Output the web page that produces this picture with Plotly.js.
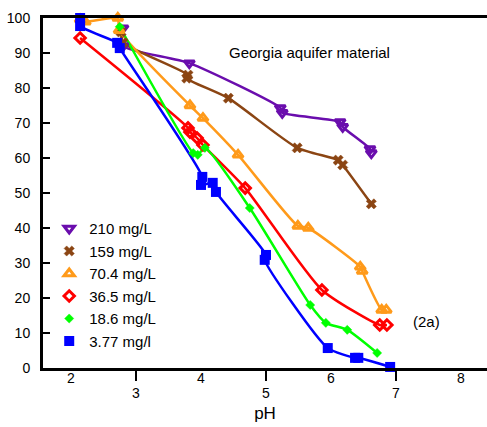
<!DOCTYPE html>
<html>
<head>
<meta charset="utf-8">
<script src="https://cdn.plot.ly/plotly-3.0.1.min.js"></script>
<style>html,body{margin:0;padding:0;background:#fff;}#chart{width:487px;height:427px;}</style>
</head>
<body>
<div id="chart"></div>
<script>
// Series names
var seriesNames = ["210 mg/L", "159 mg/L", "70.4 mg/L", "36.5 mg/L", "18.6 mg/L", "3.77 mg/l"];

// pH values (x) and % remaining (y) for each series
var x210 = [2.80, 2.80, 3.82, 5.22, 5.25, 6.14, 6.18, 6.60, 6.62];
var y210 = [97.1, 92.0, 87.1, 74.3, 72.9, 70.3, 68.9, 62.6, 61.4];

var x159 = [2.77, 2.80, 3.80, 3.78, 4.42, 5.48, 6.11, 6.18, 6.62];
var y159 = [96.0, 93.0, 83.7, 82.8, 77.1, 62.9, 59.4, 58.0, 46.9];

var x70 = [2.14, 2.22, 2.72, 2.74, 3.83, 4.03, 4.57, 5.49, 5.65, 6.45, 6.48, 6.78, 6.85];
var y70 = [99.6, 98.9, 100.0, 96.5, 75.0, 71.4, 60.9, 40.6, 40.0, 28.9, 27.7, 16.6, 16.6];

var x36 = [2.14, 3.80, 3.83, 3.94, 4.03, 4.68, 5.86, 6.75, 6.86];
var y36 = [94.3, 68.6, 67.4, 65.7, 63.7, 51.4, 22.3, 12.3, 12.3];

var x18 = [2.75, 3.88, 3.95, 4.06, 4.75, 5.68, 5.92, 6.25, 6.71];
var y18 = [97.5, 61.4, 60.9, 62.9, 45.7, 18.0, 12.9, 10.9, 4.3];

var x3 = [2.14, 2.14, 2.71, 2.75, 4.02, 4.00, 4.18, 4.23, 5.00, 4.98, 5.95, 6.37, 6.42, 6.91];
var y3 = [100.0, 97.7, 92.9, 91.4, 54.6, 52.3, 52.9, 50.3, 32.3, 30.9, 5.7, 2.9, 2.9, 0.3];

// Tick labels
var yTicks = [0, 10, 20, 30, 40, 50, 60, 70, 80, 90, 100];
var xOddTicks = [3, 5, 7];
var xEvenTicks = [2, 4, 6, 8];

var colors = ["#6a0dad", "#8b4513", "#ff9a1a", "#ff0000", "#00ff00", "#0000ff"];
var symbols = ["triangle-down-open", "x", "triangle-up-open", "diamond-open", "diamond", "square"];
var sizes = [9, 9, 9, 8, 7, 10];
var lineW = [3, 0.5, 3, 3, 0.5, 0];

var xs = [x210, x159, x70, x36, x18, x3];
var ys = [y210, y159, y70, y36, y18, y3];

var traces = [];
xs.forEach(function (xv, i) {
  traces.push({
    type: "scatter", mode: "lines", showlegend: false, hoverinfo: "skip",
    x: xv, y: ys[i], cliponaxis: false,
    line: {color: colors[i], width: 2.5, shape: "spline", smoothing: 0.6}
  });
});
xs.forEach(function (xv, i) {
  traces.push({
    type: "scatter", mode: "markers", name: seriesNames[i],
    x: xv, y: ys[i], cliponaxis: false,
    marker: {symbol: symbols[i], size: sizes[i], color: colors[i],
             line: {color: colors[i], width: lineW[i]}}
  });
});
// dummy trace to activate the second x axis for even labels
traces.push({type: "scatter", x: [2], y: [-100], xaxis: "x2", yaxis: "y", showlegend: false,
             mode: "markers", marker: {opacity: 0}, hoverinfo: "skip"});

var font = "Liberation Sans, Arial, sans-serif";
var layout = {
  width: 487, height: 427,
  margin: {l: 43, r: 0, t: 18, b: 59},
  paper_bgcolor: "#fff", plot_bgcolor: "#fff",
  showlegend: true,
  font: {family: font, color: "#000"},
  xaxis: {
    range: [1.569, 8.4], showgrid: false, zeroline: false,
    showline: true, linecolor: "#000", linewidth: 3, mirror: true,
    tickmode: "array", tickvals: xOddTicks, ticktext: xOddTicks.map(String),
    ticks: "outside", ticklen: 10, tickwidth: 2, tickcolor: "#000",
    tickfont: {size: 14, family: font, color: "#000"},
    title: {text: "pH", font: {size: 17, family: font, color: "#000"}, standoff: 8},
    automargin: false
  },
  xaxis2: {
    overlaying: "x", matches: "x", anchor: "y", side: "bottom",
    range: [1.569, 8.4], showgrid: false, zeroline: false, showline: false,
    tickmode: "array", tickvals: xEvenTicks, ticktext: xEvenTicks.map(String),
    ticks: "", tickfont: {size: 14, family: font, color: "#000"}, automargin: false
  },
  yaxis: {
    range: [0, 100], showgrid: false, zeroline: false,
    showline: true, linecolor: "#000", linewidth: 3,
    tickmode: "array", tickvals: yTicks, ticktext: yTicks.map(String),
    ticks: "inside", ticklen: 7, tickwidth: 2, tickcolor: "#000",
    ticklabelstandoff: 7,
    tickfont: {size: 14, family: font, color: "#000"},
    automargin: false
  },
  legend: {
    x: 0.014, xanchor: "left", y: 0.445, yanchor: "top",
    bgcolor: "rgba(0,0,0,0)", borderwidth: 0,
    font: {size: 15, family: font, color: "#000"},
    tracegroupgap: 0
  },
  annotations: [
    {text: "Georgia aquifer material", xref: "paper", yref: "paper", x: 0.601, y: 0.931,
     showarrow: false, font: {size: 15, family: font, color: "#000"}},
    {text: "(2a)", xref: "paper", yref: "paper", x: 0.899, y: 0.103,
     showarrow: false, font: {size: 15, family: font, color: "#000"}}
  ]
};

Plotly.newPlot("chart", traces, layout, {displayModeBar: false, staticPlot: true});
</script>
</body>
</html>
